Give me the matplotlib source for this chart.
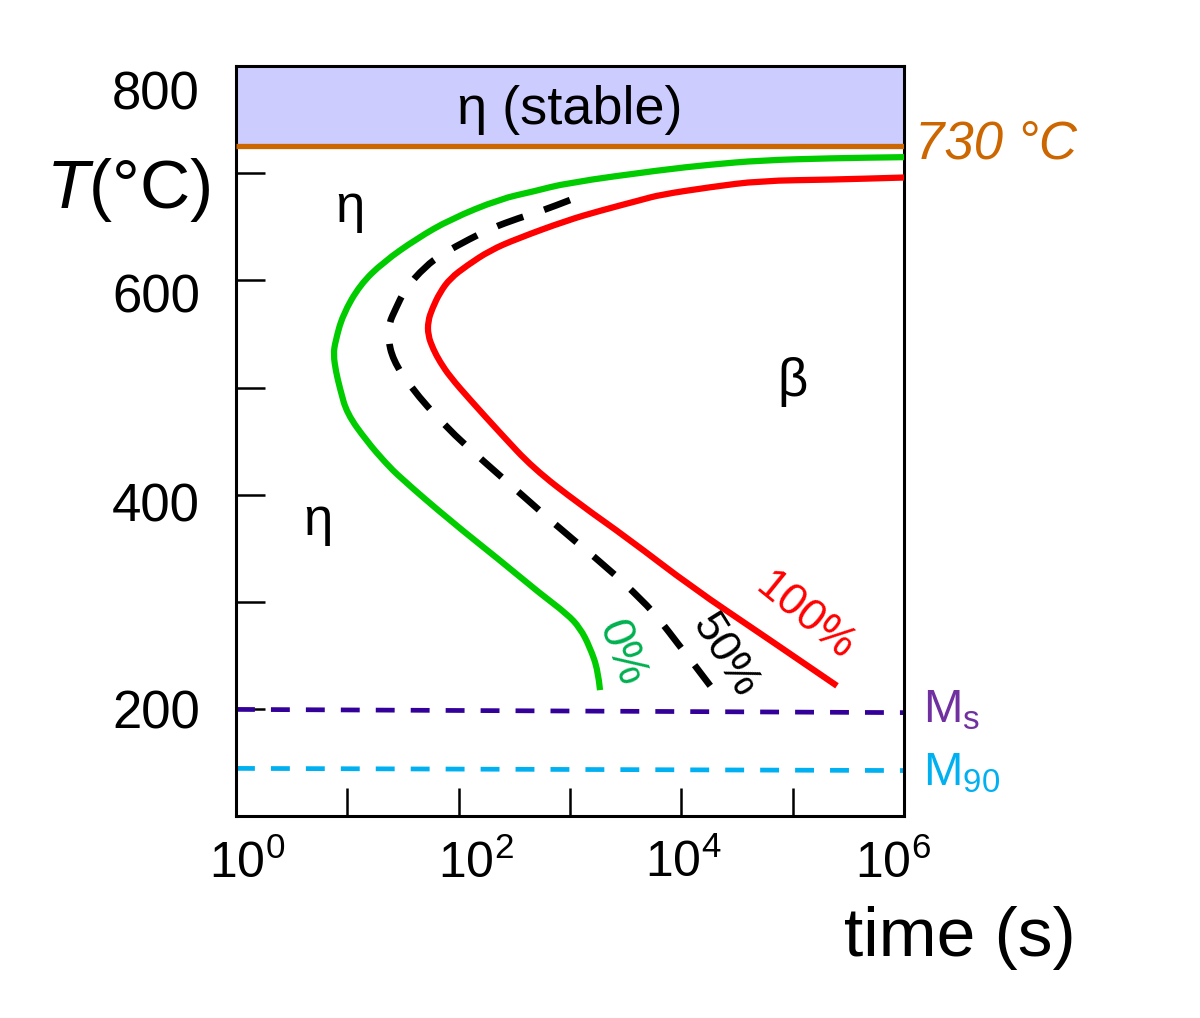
import numpy as np
import matplotlib
matplotlib.use("Agg")
import matplotlib.pyplot as plt
from matplotlib.ticker import FixedLocator, FixedFormatter, NullLocator
from matplotlib.transforms import ScaledTranslation
from matplotlib.path import Path
from matplotlib.patches import PathPatch

plt.rcParams['font.family'] = ['Liberation Sans', 'DejaVu Sans']
plt.rcParams['mathtext.fontset'] = 'custom'
plt.rcParams['mathtext.rm'] = 'Liberation Sans'
plt.rcParams['mathtext.it'] = 'Liberation Sans:italic'
plt.rcParams['mathtext.bf'] = 'Liberation Sans:bold'

# ---------------- data ----------------
# 0 % transformation (start) curve
t_0pct = [1.0e6, 2.2e5, 5.1e4, 1.8e4, 6.5e3, 940, 470, 235, 84, 42, 21, 13, 9.1, 7.8, 7.5,
          7.9, 8.6, 9.9, 15, 22, 30, 84, 235, 540, 940, 1230, 1510, 1790, 1860]
T_0pct = [715, 714, 712, 708, 703, 691, 683, 676, 657, 639, 617, 596, 568, 543, 531,
          515, 499, 476, 450, 430, 416, 376, 339, 308, 289, 276, 258, 236, 218]

# 50 % transformation curve
t_50pct = [1000, 561, 342, 200, 127, 72, 50, 33, 27, 23.7, 23.2, 25.7, 36.6, 75.5, 173,
           380, 867, 2070, 4540, 6450, 9350, 1.28e4, 1.82e4]
T_50pct = [675, 665, 658, 649, 639, 625, 613, 592, 573, 560, 546, 526, 501, 464, 430,
           399, 366, 334, 301, 283, 261, 243, 222]

# 100 % transformation (finish) curve
t_100pct = [1.0e6, 2.2e5, 5.1e4, 1.8e4, 6.5e3, 4.3e3, 1860, 940, 335, 191, 119, 84, 68, 58,
            53, 53, 59, 68, 84, 126, 235, 466, 1233, 3260, 1.28e4, 5.1e4, 2.5e5]
T_100pct = [696, 694, 693, 687, 680, 675, 665, 656, 639, 628, 614, 602, 589, 574,
            562, 549, 536, 524, 510, 489, 458, 425, 391, 360, 313, 271, 222]

# horizontal reference lines
t_span = [1.0, 1.0e6]
T_eta_limit = [725, 725]
T_Ms = [200, 197]
T_M90 = [145, 143]

x_tick_vals = [1e0, 1e1, 1e2, 1e3, 1e4, 1e5, 1e6]
x_tick_labels = ['$10^{0}$', '', '$10^{2}$', '', '$10^{4}$', '', '$10^{6}$']
y_tick_vals = [200, 300, 400, 500, 600, 700, 800]
y_tick_labels = ['200', '', '400', '', '600', '', '800']


def smooth_curve(ax, ts, Ts, **kw):
    """Draw the read points as a smooth (quadratic Bezier) line."""
    to_axes = ax.transScale + ax.transLimits
    pts = to_axes.transform(np.column_stack([ts, Ts]))
    n = len(pts)
    verts = [pts[0], (pts[0] + pts[1]) / 2]
    codes = [Path.MOVETO, Path.LINETO]
    for i in range(1, n - 1):
        end = (pts[i] + pts[i + 1]) / 2 if i < n - 2 else pts[i + 1]
        verts += [pts[i], end]
        codes += [Path.CURVE3, Path.CURVE3]
    patch = PathPatch(Path(verts, codes), transform=ax.transAxes, fill=False, **kw)
    ax.add_patch(patch)
    return patch


# ---------------- figure ----------------
fig = plt.figure(figsize=(12, 10.18), dpi=100)
ax = fig.add_axes([236 / 1200, 1 - 816 / 1018, 668 / 1200, 750 / 1018])
ax.set_xscale('log')
ax.set_xlim(1, 1e6)
ax.set_ylim(100.6, 800)

ytop = ax.get_ylim()[1]
ax.fill_between(t_span, T_eta_limit, [ytop, ytop], color='#ccccff', lw=0, zorder=0)
ax.plot(t_span, T_eta_limit, color='#cc6600', lw=3.8, solid_capstyle='butt', zorder=3)

ax.plot(t_span, T_Ms, color='#330099', lw=3.4, ls=(0, (4.0, 3.4)), zorder=2)
ax.plot(t_span, T_M90, color='#00b0f0', lw=3.4, ls=(0, (4.0, 3.4)), zorder=2)

smooth_curve(ax, t_0pct, T_0pct, edgecolor='#00cc00', lw=4.5, joinstyle='round',
             capstyle='butt', zorder=4)
smooth_curve(ax, t_100pct, T_100pct, edgecolor='#ff0000', lw=4.5, joinstyle='round',
             capstyle='butt', zorder=4)
smooth_curve(ax, t_50pct, T_50pct, edgecolor='black', lw=4.8, ls=(0, (4.15, 3.3)),
             capstyle='butt', zorder=4)

# axes styling
for sp in ax.spines.values():
    sp.set_linewidth(2.2)
    sp.set_color('black')
ax.xaxis.set_major_locator(FixedLocator(x_tick_vals))
ax.xaxis.set_major_formatter(FixedFormatter(x_tick_labels))
ax.xaxis.set_minor_locator(NullLocator())
ax.yaxis.set_major_locator(FixedLocator(y_tick_vals))
ax.yaxis.set_major_formatter(FixedFormatter(y_tick_labels))
ax.tick_params(axis='x', direction='in', length=20, width=1.8, labelsize=36, pad=17)
ax.tick_params(axis='y', direction='in', length=21, width=1.8, labelsize=38, pad=26)

# region labels
ax.text(0.5, 759, 'η (stable)', transform=ax.get_yaxis_transform(), ha='center',
        va='center', fontsize=39)
ax.text(10.6, 668, 'η', ha='center', va='center', fontsize=38)
ax.text(5.45, 376, 'η', ha='center', va='center', fontsize=38)
ax.text(1.0e5, 505, 'β', ha='center', va='center', fontsize=38)

# curve labels
ax.text(2880, 253, '0%', color='#00b050', rotation=-70, rotation_mode='anchor',
        ha='center', va='center', fontsize=33)
ax.text(24300, 250, '50%', color='black', rotation=-58, rotation_mode='anchor',
        ha='center', va='center', fontsize=32)
ax.text(1.3e5, 286, '100%', color='#ff0000', rotation=-39, rotation_mode='anchor',
        ha='center', va='center', fontsize=32)

# right-hand labels
ax.text(1.0165, 727, '730 °C', transform=ax.get_yaxis_transform(), color='#cc6600',
        style='italic', ha='left', va='center', fontsize=38, clip_on=False)
ax.text(1.028, 188, 'M$_{\\mathrm{s}}$', transform=ax.get_yaxis_transform(),
        color='#7030a0', ha='left', va='baseline', fontsize=34, clip_on=False)
ax.text(1.028, 129.4, 'M$_{\\mathrm{90}}$', transform=ax.get_yaxis_transform(),
        color='#00b0f0', ha='left', va='baseline', fontsize=34, clip_on=False)

# axis titles
ax.text(-0.162, 0.835, '$T$(°C)', transform=ax.transAxes, ha='center', va='center',
        fontsize=50)
ax.text(1.084, -0.162, 'time (s)', transform=ax.transAxes, ha='center', va='center',
        fontsize=50)

# small per-label offsets to match the hand-placed labels of the reference
fig.canvas.draw()
y_off = {'800': -24, '600': -13, '400': -7, '200': 0}
for lbl in ax.get_yticklabels():
    dy = y_off.get(lbl.get_text(), 0)
    lbl.set_transform(lbl.get_transform() + ScaledTranslation(0, dy / 100, fig.dpi_scale_trans))
x_off = {'$10^{0}$': 11, '$10^{2}$': 17, '$10^{4}$': 2, '$10^{6}$': -11}
for lbl in ax.get_xticklabels():
    dx = x_off.get(lbl.get_text(), 0)
    lbl.set_transform(lbl.get_transform() + ScaledTranslation(dx / 100, 0, fig.dpi_scale_trans))

fig.savefig('out.png', dpi=100)
